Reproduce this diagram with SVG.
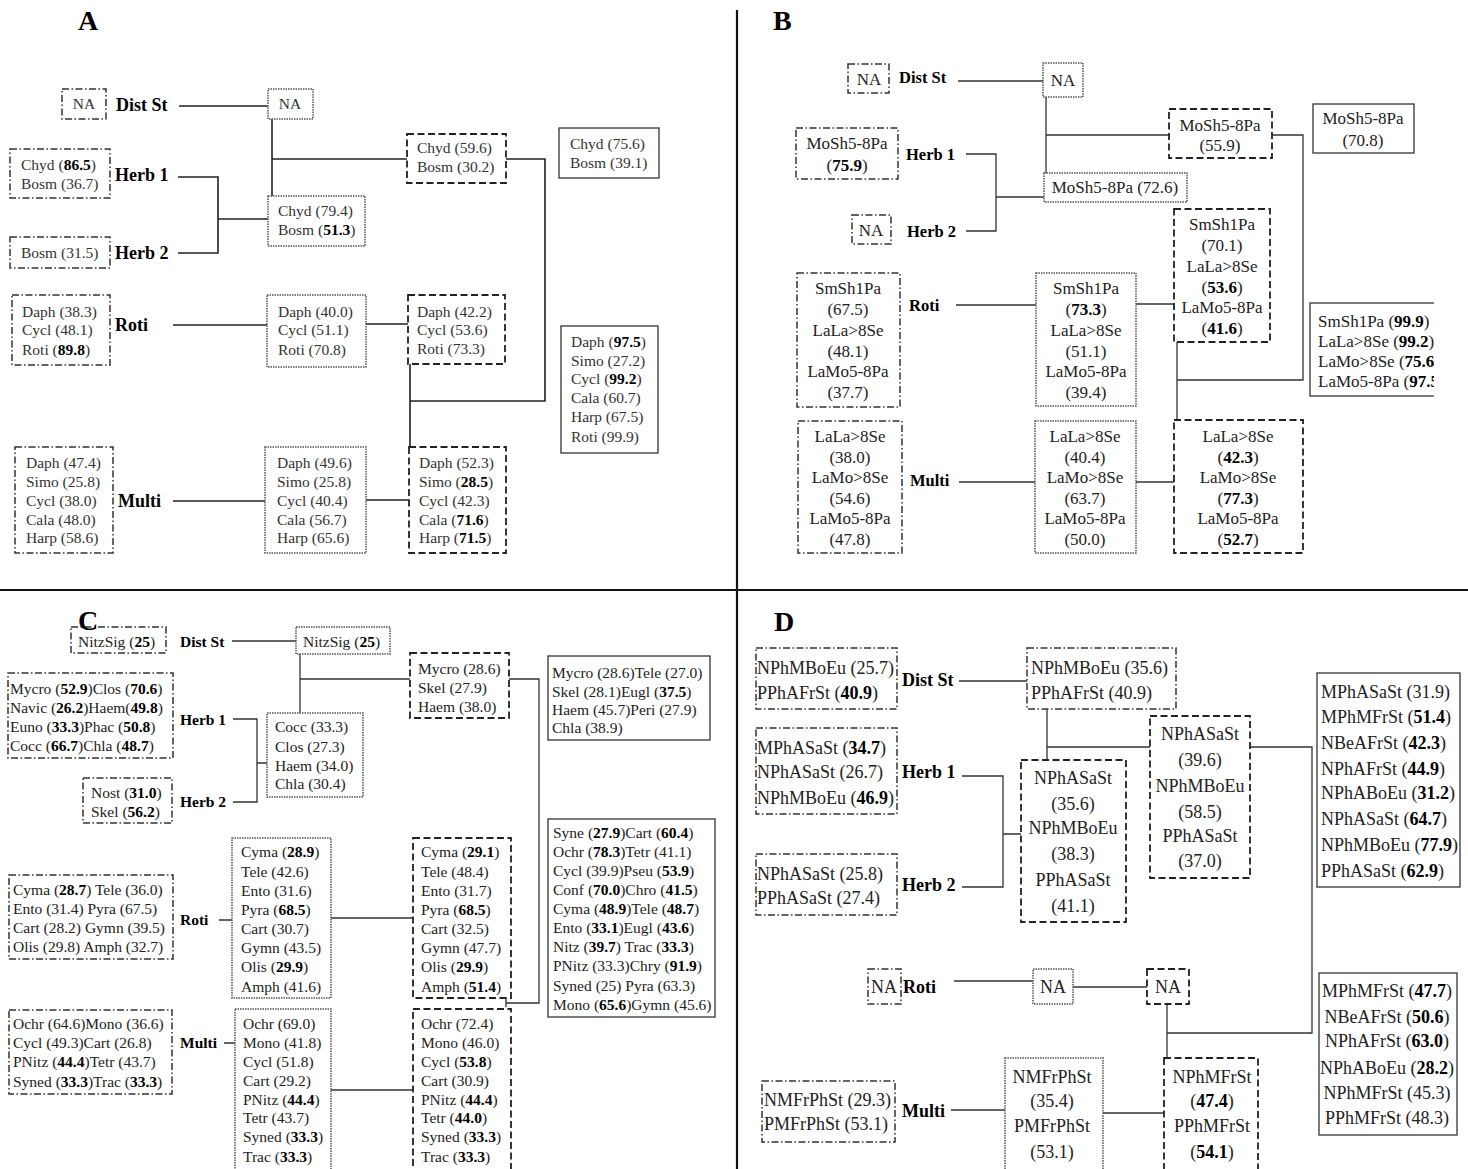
<svg xmlns="http://www.w3.org/2000/svg" width="1468" height="1169" viewBox="0 0 1468 1169">
<style>
text{font-family:"Liberation Serif","Times New Roman",serif;fill:#222}
.ta{font-size:15.5px;fill:#333}
.tb{font-size:17px}
.tc{font-size:15.5px}
.td{font-size:18px}
.m{text-anchor:middle}
.b{font-weight:bold;fill:#000}
.lA{font-size:18px;font-weight:bold;fill:#000}
.lB{font-size:16.5px;font-weight:bold;fill:#000}
.lC{font-size:15.5px;font-weight:bold;fill:#000}
.lD{font-size:18px;font-weight:bold;fill:#000}
.big{font-size:28px;font-weight:bold;fill:#000}
.dd{fill:#fff;stroke:#333;stroke-width:1.5;stroke-dasharray:7 2.5 1.5 2.5}
.dt{fill:#fff;stroke:#555;stroke-width:1.5;stroke-dasharray:1.5 1}
.ds{fill:#fff;stroke:#222;stroke-width:1.8;stroke-dasharray:7 3.5}
.so{fill:#fff;stroke:#333;stroke-width:1.3}
.ln{fill:none;stroke:#222;stroke-width:1.6}
.ln2{fill:none;stroke:#333;stroke-width:1.3}
.div{stroke:#111;stroke-width:2.2}
</style>
<defs><clipPath id="clipB"><rect x="0" y="0" width="1434" height="1169"/></clipPath></defs>
<rect width="1468" height="1169" fill="#fff"/>
<g id="dividers">
<line class="div" x1="737" y1="10" x2="737" y2="1169"/>
<line class="div" x1="0" y1="590" x2="1468" y2="590" stroke="#333"/>
</g>

<!-- PANEL A -->
<text class="big" x="78" y="30">A</text>
<g id="connectors-A">
<path class="ln" d="M179 106H269M272 119V197M272 159H407M178 177H218V253H178M218 219H268M506 159H545V401H410M410 364V447M173 325H267M366 324H408M173 501H265M366 500H409"/>
</g>
<g id="A-dist">
<rect class="dd" x="62" y="89" width="44" height="30"/><text class="ta m" x="84" y="109">NA</text>
<text class="lA" x="116" y="111">Dist St</text>
</g>
<g id="A-dist2"><rect class="dt" x="268" y="89" width="45" height="30"/><text class="ta m" x="290" y="109">NA</text></g>
<g id="A-herb1">
<rect class="dd" x="10" y="149" width="100" height="49"/>
<text class="ta" x="21" y="170">Chyd (<tspan class="b">86.5</tspan>)</text>
<text class="ta" x="21" y="189">Bosm (36.7)</text>
<text class="lA" x="115" y="181">Herb 1</text>
</g>
<g id="A-herb2">
<rect class="dd" x="10" y="237" width="100" height="31"/>
<text class="ta" x="21" y="258">Bosm (31.5)</text>
<text class="lA" x="115" y="259">Herb 2</text>
</g>
<g id="A-herb12"><rect class="dt" x="268" y="196" width="97" height="50"/>
<text class="ta" x="278" y="216">Chyd (79.4)</text><text class="ta" x="278" y="235">Bosm (<tspan class="b">51.3</tspan>)</text></g>
<g id="A-top3"><rect class="ds" x="407" y="134" width="99" height="49"/>
<text class="ta" x="417" y="153">Chyd (59.6)</text><text class="ta" x="417" y="172">Bosm (30.2)</text></g>
<g id="A-top4"><rect class="so" x="559" y="128" width="100" height="50"/>
<text class="ta" x="570" y="149">Chyd (75.6)</text><text class="ta" x="570" y="168">Bosm (39.1)</text></g>
<g id="A-roti">
<rect class="dd" x="12" y="295" width="98" height="70"/>
<text class="ta" x="22" y="317">Daph (38.3)</text><text class="ta" x="22" y="335">Cycl (48.1)</text><text class="ta" x="22" y="355">Roti (<tspan class="b">89.8</tspan>)</text>
<text class="lA" x="115" y="331">Roti</text>
</g>
<g id="A-roti2"><rect class="dt" x="267" y="295" width="99" height="72"/>
<text class="ta" x="278" y="317">Daph (40.0)</text><text class="ta" x="278" y="335">Cycl (51.1)</text><text class="ta" x="278" y="355">Roti (70.8)</text></g>
<g id="A-roti3"><rect class="ds" x="408" y="295" width="97" height="69"/>
<text class="ta" x="417" y="317">Daph (42.2)</text><text class="ta" x="417" y="335">Cycl (53.6)</text><text class="ta" x="417" y="354">Roti (73.3)</text></g>
<g id="A-final"><rect class="so" x="561" y="326" width="97" height="127"/>
<text class="ta" x="571" y="347">Daph (<tspan class="b">97.5</tspan>)</text>
<text class="ta" x="571" y="366">Simo (27.2)</text>
<text class="ta" x="571" y="384">Cycl (<tspan class="b">99.2</tspan>)</text>
<text class="ta" x="571" y="403">Cala (60.7)</text>
<text class="ta" x="571" y="422">Harp (67.5)</text>
<text class="ta" x="571" y="442">Roti (99.9)</text></g>
<g id="A-multi">
<rect class="dd" x="15" y="447" width="98" height="106"/>
<text class="ta" x="26" y="468">Daph (47.4)</text><text class="ta" x="26" y="487">Simo (25.8)</text><text class="ta" x="26" y="506">Cycl (38.0)</text><text class="ta" x="26" y="525">Cala (48.0)</text><text class="ta" x="26" y="543">Harp (58.6)</text>
<text class="lA" x="118" y="507">Multi</text>
</g>
<g id="A-multi2"><rect class="dt" x="265" y="447" width="101" height="106"/>
<text class="ta" x="277" y="468">Daph (49.6)</text><text class="ta" x="277" y="487">Simo (25.8)</text><text class="ta" x="277" y="506">Cycl (40.4)</text><text class="ta" x="277" y="525">Cala (56.7)</text><text class="ta" x="277" y="543">Harp (65.6)</text></g>
<g id="A-multi3"><rect class="ds" x="409" y="447" width="97" height="106"/>
<text class="ta" x="419" y="468">Daph (52.3)</text><text class="ta" x="419" y="487">Simo (<tspan class="b">28.5</tspan>)</text><text class="ta" x="419" y="506">Cycl (42.3)</text><text class="ta" x="419" y="525">Cala (<tspan class="b">71.6</tspan>)</text><text class="ta" x="419" y="543">Harp (<tspan class="b">71.5</tspan>)</text></g>

<!-- PANEL B -->
<text class="big" x="773" y="30">B</text>
<g id="connectors-B">
<path class="ln2" d="M958 81H1043M1046 97V173M1046 135H1169M966 154H996V231H966M996 197H1044M1272 135H1303V380H1177M1177 342V420M956 305H1036M1136 304H1174M959 482H1035M1136 482H1174"/>
</g>
<g id="B-dist"><rect class="dd" x="848" y="64" width="41" height="29"/><text class="tb m" x="869" y="85">NA</text>
<text class="lB" x="899" y="83">Dist St</text></g>
<g id="B-dist2"><rect class="dt" x="1043" y="63" width="40" height="34"/><text class="tb m" x="1063" y="86">NA</text></g>
<g id="B-herb1"><rect class="dd" x="796" y="128" width="102" height="51"/>
<text class="tb m" x="847" y="149">MoSh5-8Pa</text><text class="tb m" x="847" y="171">(<tspan class="b">75.9</tspan>)</text>
<text class="lB" x="906" y="160">Herb 1</text></g>
<g id="B-herb2"><rect class="dd" x="852" y="215" width="39" height="29"/><text class="tb m" x="871" y="236">NA</text>
<text class="lB" x="907" y="237">Herb 2</text></g>
<g id="B-herb12"><rect class="dt" x="1044" y="173" width="143" height="29"/><text class="tb m" x="1115" y="193">MoSh5-8Pa (72.6)</text></g>
<g id="B-top3"><rect class="ds" x="1169" y="109" width="103" height="49"/>
<text class="tb m" x="1220" y="131">MoSh5-8Pa</text><text class="tb m" x="1220" y="151">(55.9)</text></g>
<g id="B-top4"><rect class="so" x="1313" y="104" width="101" height="49"/>
<text class="tb m" x="1363" y="124">MoSh5-8Pa</text><text class="tb m" x="1363" y="146">(70.8)</text></g>
<g id="B-roti"><rect class="dd" x="797" y="273" width="103" height="134"/>
<text class="tb m" x="848" y="294">SmSh1Pa</text><text class="tb m" x="848" y="315">(67.5)</text><text class="tb m" x="848" y="336">LaLa&gt;8Se</text><text class="tb m" x="848" y="357">(48.1)</text><text class="tb m" x="848" y="377">LaMo5-8Pa</text><text class="tb m" x="848" y="398">(37.7)</text>
<text class="lB" x="909" y="311">Roti</text></g>
<g id="B-roti2"><rect class="dt" x="1036" y="273" width="100" height="133"/>
<text class="tb m" x="1086" y="294">SmSh1Pa</text><text class="tb m" x="1086" y="315">(<tspan class="b">73.3</tspan>)</text><text class="tb m" x="1086" y="336">LaLa&gt;8Se</text><text class="tb m" x="1086" y="357">(51.1)</text><text class="tb m" x="1086" y="377">LaMo5-8Pa</text><text class="tb m" x="1086" y="398">(39.4)</text></g>
<g id="B-roti3"><rect class="ds" x="1174" y="209" width="96" height="133"/>
<text class="tb m" x="1222" y="230">SmSh1Pa</text><text class="tb m" x="1222" y="251">(70.1)</text><text class="tb m" x="1222" y="272">LaLa&gt;8Se</text><text class="tb m" x="1222" y="293">(<tspan class="b">53.6</tspan>)</text><text class="tb m" x="1222" y="313">LaMo5-8Pa</text><text class="tb m" x="1222" y="334">(<tspan class="b">41.6</tspan>)</text></g>
<g id="B-final" clip-path="url(#clipB)"><rect class="so" x="1310" y="303" width="180" height="93"/>
<text class="tb" x="1318" y="327">SmSh1Pa (<tspan class="b">99.9</tspan>)</text>
<text class="tb" x="1318" y="347">LaLa&gt;8Se (<tspan class="b">99.2</tspan>)</text>
<text class="tb" x="1318" y="367">LaMo&gt;8Se (<tspan class="b">75.6</tspan>)</text>
<text class="tb" x="1318" y="387">LaMo5-8Pa (<tspan class="b">97.5</tspan>)</text></g>
<g id="B-multi"><rect class="dd" x="798" y="421" width="104" height="132"/>
<text class="tb m" x="850" y="442">LaLa&gt;8Se</text><text class="tb m" x="850" y="463">(38.0)</text><text class="tb m" x="850" y="483">LaMo&gt;8Se</text><text class="tb m" x="850" y="504">(54.6)</text><text class="tb m" x="850" y="524">LaMo5-8Pa</text><text class="tb m" x="850" y="545">(47.8)</text>
<text class="lB" x="910" y="486">Multi</text></g>
<g id="B-multi2"><rect class="dt" x="1035" y="421" width="101" height="132"/>
<text class="tb m" x="1085" y="442">LaLa&gt;8Se</text><text class="tb m" x="1085" y="463">(40.4)</text><text class="tb m" x="1085" y="483">LaMo&gt;8Se</text><text class="tb m" x="1085" y="504">(63.7)</text><text class="tb m" x="1085" y="524">LaMo5-8Pa</text><text class="tb m" x="1085" y="545">(50.0)</text></g>
<g id="B-multi3"><rect class="ds" x="1174" y="420" width="129" height="133"/>
<text class="tb m" x="1238" y="442">LaLa&gt;8Se</text><text class="tb m" x="1238" y="463">(<tspan class="b">42.3</tspan>)</text><text class="tb m" x="1238" y="483">LaMo&gt;8Se</text><text class="tb m" x="1238" y="504">(<tspan class="b">77.3</tspan>)</text><text class="tb m" x="1238" y="524">LaMo5-8Pa</text><text class="tb m" x="1238" y="545">(<tspan class="b">52.7</tspan>)</text></g>

<!-- PANEL C -->
<g id="connectors-C">
<path class="ln2" d="M232 641H296M300 654V714M300 679H410M233 719H257V802H233M257 763H267M509 679H539V1003H506M506 998V1007M219 920H232M331 918H413M224 1043H235M331 1090H413"/>
</g>
<g id="C-dist"><rect class="dd" x="71" y="627" width="95" height="26"/><text class="tc" x="78" y="647">NitzSig (<tspan class="b">25</tspan>)</text>
<text class="lC" x="180" y="647">Dist St</text></g>
<text class="big" x="78" y="630">C</text>
<g id="C-dist2"><rect class="dt" x="296" y="627" width="94" height="27"/><text class="tc" x="303" y="647">NitzSig (<tspan class="b">25</tspan>)</text></g>
<g id="C-herb1"><rect class="dd" x="8" y="673" width="165" height="85"/>
<text class="tc" x="10" y="694">Mycro (<tspan class="b">52.9</tspan>)Clos (<tspan class="b">70.6</tspan>)</text>
<text class="tc" x="10" y="713">Navic (<tspan class="b">26.2</tspan>)Haem(<tspan class="b">49.8</tspan>)</text>
<text class="tc" x="10" y="732">Euno (<tspan class="b">33.3</tspan>)Phac (<tspan class="b">50.8</tspan>)</text>
<text class="tc" x="10" y="751">Cocc (<tspan class="b">66.7</tspan>)Chla (<tspan class="b">48.7</tspan>)</text>
<text class="lC" x="180" y="725">Herb 1</text></g>
<g id="C-herb2"><rect class="dd" x="83" y="778" width="89" height="45"/>
<text class="tc" x="91" y="798">Nost (<tspan class="b">31.0</tspan>)</text><text class="tc" x="91" y="817">Skel (<tspan class="b">56.2</tspan>)</text>
<text class="lC" x="180" y="807">Herb 2</text></g>
<g id="C-herb12"><rect class="dt" x="267" y="713" width="96" height="84"/>
<text class="tc" x="275" y="732">Cocc (33.3)</text><text class="tc" x="275" y="752">Clos (27.3)</text><text class="tc" x="275" y="771">Haem (34.0)</text><text class="tc" x="275" y="789">Chla (30.4)</text></g>
<g id="C-top3"><rect class="ds" x="410" y="653" width="99" height="65"/>
<text class="tc" x="418" y="674">Mycro (28.6)</text><text class="tc" x="418" y="693">Skel (27.9)</text><text class="tc" x="418" y="712">Haem (38.0)</text></g>
<g id="C-top4"><rect class="so" x="548" y="656" width="162" height="84"/>
<text class="tc" x="552" y="678">Mycro (28.6)Tele (27.0)</text>
<text class="tc" x="552" y="697">Skel (28.1)Eugl (<tspan class="b">37.5</tspan>)</text>
<text class="tc" x="552" y="715">Haem (45.7)Peri (27.9)</text>
<text class="tc" x="552" y="733">Chla (38.9)</text></g>
<g id="C-final"><rect class="so" x="548" y="819" width="167" height="198"/>
<text class="tc" x="553" y="838">Syne (<tspan class="b">27.9</tspan>)Cart (<tspan class="b">60.4</tspan>)</text>
<text class="tc" x="553" y="857">Ochr (<tspan class="b">78.3</tspan>)Tetr (41.1)</text>
<text class="tc" x="553" y="876">Cycl (39.9)Pseu (<tspan class="b">53.9</tspan>)</text>
<text class="tc" x="553" y="895">Conf (<tspan class="b">70.0</tspan>)Chro (<tspan class="b">41.5</tspan>)</text>
<text class="tc" x="553" y="914">Cyma (<tspan class="b">48.9</tspan>)Tele (<tspan class="b">48.7</tspan>)</text>
<text class="tc" x="553" y="933">Ento (<tspan class="b">33.1</tspan>)Eugl (<tspan class="b">43.6</tspan>)</text>
<text class="tc" x="553" y="952">Nitz (<tspan class="b">39.7</tspan>) Trac (<tspan class="b">33.3</tspan>)</text>
<text class="tc" x="553" y="971">PNitz (33.3)Chry (<tspan class="b">91.9</tspan>)</text>
<text class="tc" x="553" y="991">Syned (25) Pyra (63.3)</text>
<text class="tc" x="553" y="1010">Mono (<tspan class="b">65.6</tspan>)Gymn (45.6)</text></g>
<g id="C-roti"><rect class="dd" x="9" y="875" width="164" height="84"/>
<text class="tc" x="13" y="895">Cyma (<tspan class="b">28.7</tspan>) Tele (36.0)</text>
<text class="tc" x="13" y="914">Ento (31.4) Pyra (67.5)</text>
<text class="tc" x="13" y="933">Cart (28.2) Gymn (39.5)</text>
<text class="tc" x="13" y="952">Olis (29.8) Amph (32.7)</text>
<text class="lC" x="180" y="925">Roti</text></g>
<g id="C-roti2"><rect class="dt" x="232" y="838" width="99" height="160"/>
<text class="tc" x="241" y="857">Cyma (<tspan class="b">28.9</tspan>)</text><text class="tc" x="241" y="877">Tele (42.6)</text><text class="tc" x="241" y="896">Ento (31.6)</text><text class="tc" x="241" y="915">Pyra (<tspan class="b">68.5</tspan>)</text><text class="tc" x="241" y="934">Cart (30.7)</text><text class="tc" x="241" y="953">Gymn (43.5)</text><text class="tc" x="241" y="972">Olis (<tspan class="b">29.9</tspan>)</text><text class="tc" x="241" y="992">Amph (41.6)</text></g>
<g id="C-roti3"><rect class="ds" x="413" y="838" width="98" height="160"/>
<text class="tc" x="421" y="857">Cyma (<tspan class="b">29.1</tspan>)</text><text class="tc" x="421" y="877">Tele (48.4)</text><text class="tc" x="421" y="896">Ento (31.7)</text><text class="tc" x="421" y="915">Pyra (<tspan class="b">68.5</tspan>)</text><text class="tc" x="421" y="934">Cart (32.5)</text><text class="tc" x="421" y="953">Gymn (47.7)</text><text class="tc" x="421" y="972">Olis (<tspan class="b">29.9</tspan>)</text><text class="tc" x="421" y="992">Amph (<tspan class="b">51.4</tspan>)</text></g>
<g id="C-multi"><rect class="dd" x="9" y="1010" width="163" height="84"/>
<text class="tc" x="13" y="1029">Ochr (64.6)Mono (36.6)</text>
<text class="tc" x="13" y="1048">Cycl (49.3)Cart (26.8)</text>
<text class="tc" x="13" y="1067">PNitz (<tspan class="b">44.4</tspan>)Tetr (43.7)</text>
<text class="tc" x="13" y="1087">Syned (<tspan class="b">33.3</tspan>)Trac (<tspan class="b">33.3</tspan>)</text>
<text class="lC" x="180" y="1048">Multi</text></g>
<g id="C-multi2"><rect class="dt" x="235" y="1009" width="96" height="180"/>
<text class="tc" x="243" y="1029">Ochr (69.0)</text><text class="tc" x="243" y="1048">Mono (41.8)</text><text class="tc" x="243" y="1067">Cycl (51.8)</text><text class="tc" x="243" y="1086">Cart (29.2)</text><text class="tc" x="243" y="1105">PNitz (<tspan class="b">44.4</tspan>)</text><text class="tc" x="243" y="1123">Tetr (43.7)</text><text class="tc" x="243" y="1142">Syned (<tspan class="b">33.3</tspan>)</text><text class="tc" x="243" y="1162">Trac (<tspan class="b">33.3</tspan>)</text></g>
<g id="C-multi3"><rect class="ds" x="413" y="1009" width="98" height="180"/>
<text class="tc" x="421" y="1029">Ochr (72.4)</text><text class="tc" x="421" y="1048">Mono (46.0)</text><text class="tc" x="421" y="1067">Cycl (<tspan class="b">53.8</tspan>)</text><text class="tc" x="421" y="1086">Cart (30.9)</text><text class="tc" x="421" y="1105">PNitz (<tspan class="b">44.4</tspan>)</text><text class="tc" x="421" y="1123">Tetr (<tspan class="b">44.0</tspan>)</text><text class="tc" x="421" y="1142">Syned (<tspan class="b">33.3</tspan>)</text><text class="tc" x="421" y="1162">Trac (<tspan class="b">33.3</tspan>)</text></g>

<!-- PANEL D -->
<text class="big" x="774" y="631">D</text>
<g id="connectors-D">
<path class="ln2" d="M959 681H1027M1047 709V760M1047 747H1150M962 776H1003V887H962M1003 834H1021M1250 747H1312V1033H1167M1167 1004V1058M954 981H1034M1073 987H1147M951 1110H1005M1103 1113H1164"/>
</g>
<g id="D-dist"><rect class="dd" x="756" y="648" width="141" height="61"/>
<text class="td" x="757" y="674">NPhMBoEu (25.7)</text><text class="td" x="757" y="699">PPhAFrSt (<tspan class="b">40.9</tspan>)</text>
<text class="lD" x="902" y="686">Dist St</text></g>
<g id="D-dist2"><rect class="dd" x="1027" y="648" width="149" height="61"/>
<text class="td" x="1031" y="674">NPhMBoEu (35.6)</text><text class="td" x="1031" y="699">PPhAFrSt (40.9)</text></g>
<g id="D-herb1"><rect class="dd" x="756" y="728" width="141" height="86"/>
<text class="td" x="757" y="754">MPhASaSt (<tspan class="b">34.7</tspan>)</text><text class="td" x="757" y="778">NPhASaSt (26.7)</text><text class="td" x="757" y="804">NPhMBoEu (<tspan class="b">46.9</tspan>)</text>
<text class="lD" x="902" y="778">Herb 1</text></g>
<g id="D-herb2"><rect class="dd" x="756" y="854" width="141" height="61"/>
<text class="td" x="757" y="880">NPhASaSt (25.8)</text><text class="td" x="757" y="904">PPhASaSt (27.4)</text>
<text class="lD" x="902" y="891">Herb 2</text></g>
<g id="D-herb12"><rect class="ds" x="1021" y="760" width="105" height="162"/>
<text class="td m" x="1073" y="784">NPhASaSt</text><text class="td m" x="1073" y="810">(35.6)</text><text class="td m" x="1073" y="834">NPhMBoEu</text><text class="td m" x="1073" y="860">(38.3)</text><text class="td m" x="1073" y="886">PPhASaSt</text><text class="td m" x="1073" y="912">(41.1)</text></g>
<g id="D-top3"><rect class="ds" x="1150" y="716" width="100" height="162"/>
<text class="td m" x="1200" y="740">NPhASaSt</text><text class="td m" x="1200" y="766">(39.6)</text><text class="td m" x="1200" y="792">NPhMBoEu</text><text class="td m" x="1200" y="818">(58.5)</text><text class="td m" x="1200" y="842">PPhASaSt</text><text class="td m" x="1200" y="867">(37.0)</text></g>
<g id="D-top4"><rect class="so" x="1317" y="673" width="143" height="214"/>
<text class="td" x="1321" y="698">MPhASaSt (31.9)</text>
<text class="td" x="1321" y="723">MPhMFrSt (<tspan class="b">51.4</tspan>)</text>
<text class="td" x="1321" y="749">NBeAFrSt (<tspan class="b">42.3</tspan>)</text>
<text class="td" x="1321" y="775">NPhAFrSt (<tspan class="b">44.9</tspan>)</text>
<text class="td" x="1321" y="799">NPhABoEu (<tspan class="b">31.2</tspan>)</text>
<text class="td" x="1321" y="825">NPhASaSt (<tspan class="b">64.7</tspan>)</text>
<text class="td" x="1321" y="851">NPhMBoEu (<tspan class="b">77.9</tspan>)</text>
<text class="td" x="1321" y="877">PPhASaSt (<tspan class="b">62.9</tspan>)</text></g>
<g id="D-final"><rect class="so" x="1319" y="973" width="138" height="162"/>
<text class="td m" x="1387" y="997">MPhMFrSt (<tspan class="b">47.7</tspan>)</text>
<text class="td m" x="1387" y="1023">NBeAFrSt (<tspan class="b">50.6</tspan>)</text>
<text class="td m" x="1387" y="1047">NPhAFrSt (<tspan class="b">63.0</tspan>)</text>
<text class="td m" x="1387" y="1074">NPhABoEu (<tspan class="b">28.2</tspan>)</text>
<text class="td m" x="1387" y="1099">NPhMFrSt (45.3)</text>
<text class="td m" x="1387" y="1124">PPhMFrSt (48.3)</text></g>
<g id="D-roti"><rect class="dd" x="868" y="969" width="33" height="35"/><text class="td m" x="884" y="993">NA</text>
<text class="lD" x="903" y="993">Roti</text></g>
<g id="D-roti2"><rect class="dt" x="1033" y="969" width="40" height="35"/><text class="td m" x="1053" y="993">NA</text></g>
<g id="D-roti3"><rect class="ds" x="1147" y="969" width="42" height="35"/><text class="td m" x="1168" y="993">NA</text></g>
<g id="D-multi"><rect class="dd" x="762" y="1081" width="133" height="61"/>
<text class="td" x="764" y="1106">NMFrPhSt (29.3)</text><text class="td" x="764" y="1130">PMFrPhSt (53.1)</text>
<text class="lD" x="902" y="1117">Multi</text></g>
<g id="D-multi2"><rect class="dt" x="1005" y="1058" width="98" height="130"/>
<text class="td m" x="1052" y="1083">NMFrPhSt</text><text class="td m" x="1052" y="1107">(35.4)</text><text class="td m" x="1052" y="1132">PMFrPhSt</text><text class="td m" x="1052" y="1158">(53.1)</text></g>
<g id="D-multi3"><rect class="ds" x="1164" y="1058" width="94" height="130"/>
<text class="td m" x="1212" y="1083">NPhMFrSt</text><text class="td m" x="1212" y="1107">(<tspan class="b">47.4</tspan>)</text><text class="td m" x="1212" y="1132">PPhMFrSt</text><text class="td m" x="1212" y="1158">(<tspan class="b">54.1</tspan>)</text></g>
</svg>
